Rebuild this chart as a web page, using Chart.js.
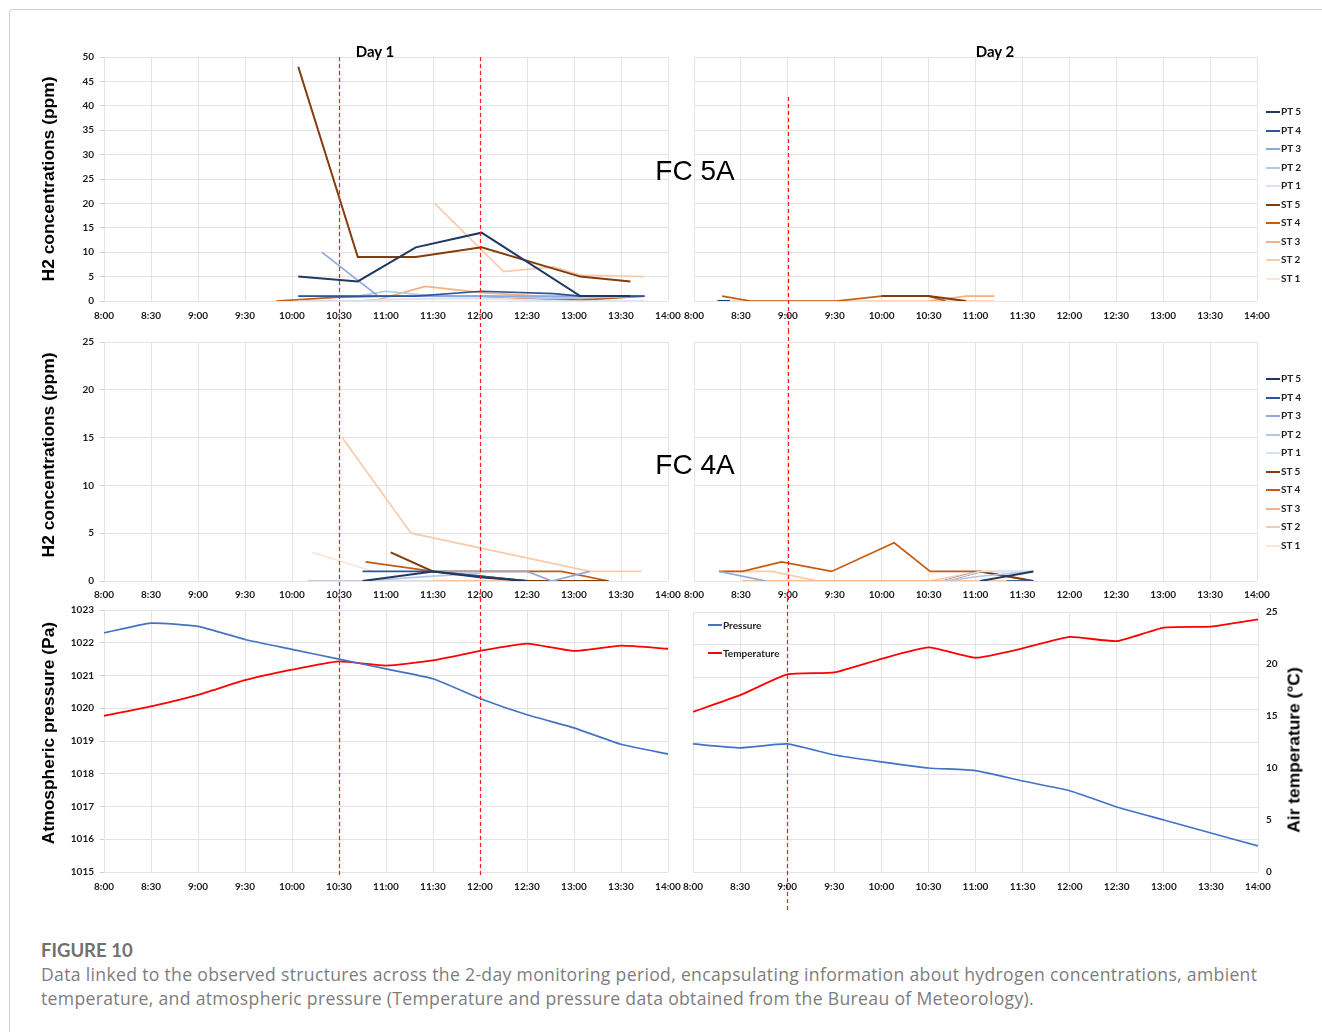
<!DOCTYPE html>
<html>
<head>
<meta charset="utf-8">
<script src="https://cdn.jsdelivr.net/npm/chart.js@4.4.1/dist/chart.umd.min.js"></script>
<style>
  body { margin:0; background:#fff; width:1322px; height:1032px; overflow:hidden; position:relative; font-family:Lato, "Open Sans", sans-serif; }
  .frame { position:absolute; left:9px; top:9px; width:1340px; height:1060px; border:1px solid #d2d2d2; border-radius:3px; }
  canvas { position:absolute; }
  .txt { position:absolute; white-space:nowrap; color:#000; }
  .vtitle { position:absolute; white-space:nowrap; transform:translate(-50%,-50%) rotate(-90deg); font-family:"Liberation Sans", Arial, sans-serif; font-weight:bold; font-size:17.4px; color:#000; }
  .day { font-family:Lato, sans-serif; font-weight:bold; font-size:15px; transform:translate(-50%,-50%); }
  .fc { font-family:"Liberation Sans", Arial, sans-serif; font-size:28px; transform:translate(-50%,-50%); }
  .legend { position:absolute; font-family:Lato, sans-serif; font-weight:bold; font-size:10px; color:#222; }
  .legend div { position:relative; height:18.5px; line-height:18.5px; padding-left:15px; }
  .legend span { position:absolute; left:0; top:9px; width:14px; height:2px; }
  .caption-head { position:absolute; left:41px; top:939px; font-family:Lato, sans-serif; font-weight:bold; font-size:18.5px; color:#707070; }
  .caption { position:absolute; left:41px; top:962px; font-family:"Open Sans", sans-serif; font-size:17.6px; letter-spacing:0.32px; line-height:24px; color:#7d7d7d; white-space:nowrap; }
</style>
</head>
<body>
<div class="frame"></div>

<canvas id="c5a1" width="650" height="300" style="left:40px;top:30px"></canvas>
<canvas id="c5a2" width="600" height="300" style="left:680px;top:30px"></canvas>
<canvas id="c4a1" width="650" height="272" style="left:40px;top:330px"></canvas>
<canvas id="c4a2" width="600" height="272" style="left:680px;top:330px"></canvas>
<canvas id="cw1" width="650" height="322" style="left:40px;top:598px"></canvas>
<canvas id="cw2" width="610" height="322" style="left:680px;top:598px"></canvas>

<div class="txt day" style="left:375px;top:51px">Day 1</div>
<div class="txt day" style="left:995px;top:51px">Day 2</div>
<div class="txt fc" style="left:695px;top:171px">FC 5A</div>
<div class="txt fc" style="left:695px;top:465px">FC 4A</div>
<div class="vtitle" style="left:48px;top:179px">H2 concentrations (ppm)</div>
<div class="vtitle" style="left:48px;top:455px">H2 concentrations (ppm)</div>
<div class="vtitle" style="left:48px;top:733px">Atmospheric pressure (Pa)</div>
<div class="vtitle" style="left:1294px;top:750px">Air temperature (°C)</div>

<div class="legend" id="leg1" style="left:1266px;top:102px"></div>
<div class="legend" id="leg2" style="left:1266px;top:369px"></div>
<div class="legend" id="legw" style="left:708px;top:616px"></div>

<div class="caption-head">FIGURE 10</div>
<div class="caption">Data linked to the observed structures across the 2-day monitoring period, encapsulating information about hydrogen concentrations, ambient<br>temperature, and atmospheric pressure (Temperature and pressure data obtained from the Bureau of Meteorology).</div>

<script>
// Sensor series (plot order = legend order)
const sensors = ["PT 5", "PT 4", "PT 3", "PT 2", "PT 1", "ST 5", "ST 4", "ST 3", "ST 2", "ST 1"];
const sensorColors = ["#203864", "#2f5597", "#8faadc", "#b4c7e7", "#dae3f3",
                      "#843c0c", "#c55a11", "#f4b183", "#f8cbad", "#fbe5d6"];

// FC 5A, day 1 — H2 readings (ppm); one row per sensor, null = no reading
const fc5aDay1Times = ["9:50", "10:04", "10:19", "10:30", "10:42", "10:55", "11:00", "11:19", "11:25", "11:31", "12:01", "12:15", "12:47", "13:04", "13:36", "13:45"];
const fc5aDay1Values = [
  [null, 5, null, null, 4, null, null, 11, null, null, 14, null, null, 1, 1, null],
  [null, 1, null, null, 1, null, null, 1, null, null, 2, null, 1.5, 1, null, 1],
  [null, null, 10, null, null, 1, null, null, null, 1, 1, null, null, 1, null, 1],
  [null, 1, null, null, 1, null, 2, null, null, 1, 1, null, 0.5, null, null, 1],
  [null, 0, null, null, 0, null, 0.3, null, null, 0.5, 0.5, null, 0, null, null, 0],
  [null, 48, null, null, 9, null, null, 9, null, null, 11, null, null, 5, 4, null],
  [0, null, null, 0.8, null, null, 1, null, null, 1, 1, null, null, 0.2, null, 1],
  [null, 0, null, null, 0, 0.3, null, null, 3, null, 1.7, null, null, 0.5, null, 1],
  [null, null, null, null, null, null, null, null, null, 20, null, 6, 7, 5.3, null, 5],
  [null, 0, null, null, 0, null, 0.3, null, null, 0.5, 0.8, null, 0.3, 0, null, 0]
];

// FC 5A, day 2
const fc5aDay2Times = ["8:15", "8:18", "8:23", "8:36", "9:31", "10:00", "10:30", "10:41", "10:54", "11:12"];
const fc5aDay2Values = [
  [0, null, 0, null, null, null, null, null, null, null],
  [null, null, null, null, null, null, null, null, null, null],
  [null, null, null, null, null, null, null, null, null, null],
  [null, null, null, null, null, null, null, null, null, null],
  [null, null, null, null, null, null, null, null, null, null],
  [null, null, null, null, null, 1, 1, null, 0, null],
  [null, 1, null, 0, 0, 1, 1, 0, null, null],
  [null, null, null, null, null, null, 0, null, 1, 1],
  [null, 0, null, 0, 0, 0, 0, null, 0, 0],
  [null, null, null, null, null, null, null, null, 1, 1]
];

// FC 4A, day 1
const fc4aDay1Times = ["10:10", "10:13", "10:32", "10:45", "10:47", "10:52", "11:03", "11:12", "11:16", "11:30", "12:00", "12:30", "12:46", "12:52", "13:10", "13:22", "13:43"];
const fc4aDay1Values = [
  [null, null, null, 0, null, null, null, null, null, 1, 0.4, 0, null, null, null, null, null],
  [null, null, null, 1, null, null, null, null, null, 1, 0.5, 0, null, null, null, null, null],
  [null, null, null, null, null, null, null, null, null, 1, 1, 1, 0, null, 1, null, null],
  [0, null, null, 0, null, null, null, null, null, 0.5, 0.8, null, null, null, null, null, null],
  [0, null, null, 0, null, null, null, null, null, 0, null, null, null, null, null, null, null],
  [null, null, null, null, null, null, 3, null, null, 1, 0.5, 0, null, null, null, 0, null],
  [null, null, null, null, 2, null, null, null, null, 1, 1, 1, null, 1, null, 0, null],
  [null, null, null, 0, null, null, null, 0, null, null, null, null, null, null, 0, 0, null],
  [null, null, 15, null, null, null, null, null, 5, null, null, null, null, null, 1, null, 1],
  [null, 3, null, null, null, 1, null, null, null, null, null, null, null, null, null, null, null]
];

// FC 4A, day 2
const fc4aDay2Times = ["8:16", "8:31", "8:46", "8:50", "8:56", "9:19", "9:28", "10:08", "10:31", "10:40", "11:03", "11:20", "11:37"];
const fc4aDay2Values = [
  [null, null, null, null, null, null, null, null, null, null, 0, null, 1],
  [null, null, null, null, null, null, null, null, null, null, null, 0, 0],
  [1, null, 0, null, null, null, null, null, null, null, null, null, null],
  [null, null, null, null, null, null, null, null, null, 0, 0.5, null, 1],
  [null, null, null, null, null, null, null, null, null, 0, 1, null, 1],
  [null, null, null, null, null, null, null, null, null, 0, 1, null, 0],
  [1, 1, null, null, 2, null, 1, 4, 1, null, 1, null, 0],
  [null, 0, null, null, null, null, 0, 0, 0, null, null, null, 0],
  [1, null, null, 1, null, 0, null, null, 0, null, 1, null, 1],
  [null, 0, null, null, null, 0, null, 0, null, null, null, null, null]
];

// Weather: half-hourly pressure and air temperature (°C)
const weatherTimes = ["8:00", "8:30", "9:00", "9:30", "10:00", "10:30", "11:00", "11:30", "12:00", "12:30", "13:00", "13:30", "14:00"];
const pressureDay1 = [1022.3, 1022.6, 1022.5, 1022.1, 1021.8, 1021.5, 1021.2, 1020.9, 1020.3, 1019.8, 1019.4, 1018.9, 1018.6];
const temperatureDay1 = [14.9, 15.8, 16.9, 18.3, 19.3, 20.1, 19.7, 20.2, 21.1, 21.8, 21.1, 21.6, 21.3];
const pressureDay2 = [1018.94, 1018.82, 1018.94, 1018.6, 1018.39, 1018.2, 1018.12, 1017.8, 1017.5, 1017.0, 1016.6, 1016.2, 1015.8];
const temperatureDay2 = [15.4, 17.0, 19.0, 19.2, 20.5, 21.6, 20.6, 21.5, 22.6, 22.2, 23.5, 23.6, 24.3];

// Times of the marked events
const day1Markers = ["10:30", "12:00"];
const day2Markers = ["9:00"];

const toMin = s => { const p = s.split(":"); return Number(p[0]) * 60 + Number(p[1]); };
const fmtTime = v => Math.floor(v / 60) + ":" + String(v % 60).padStart(2, "0");

const GRID = "#e4e4e4";
const TICK_FONT = { family: "Lato", weight: "bold", size: 10 };

// dashed red vertical markers
const markerPlugin = {
  id: "markers",
  afterDraw(chart, args, opts) {
    if (!opts.times || !opts.times.length) return;
    const ctx = chart.ctx, xs = chart.scales.x, a = chart.chartArea;
    const y0 = opts.fromTop ? a.top + (opts.topOffset || 0) : 0;
    const y1 = opts.toBottom ? a.bottom + (opts.bottomOffset || 0) : chart.height;
    ctx.save();
    ctx.strokeStyle = "#ff1a1a";
    ctx.lineWidth = 1.2;
    ctx.setLineDash([4, 3]);
    opts.times.forEach(t => {
      const x = Math.round(xs.getPixelForValue(toMin(t))) + 0.5;
      ctx.beginPath(); ctx.moveTo(x, y0); ctx.lineTo(x, y1); ctx.stroke();
    });
    ctx.restore();
  }
};
Chart.register(markerPlugin);

function xScale(h, pad) {
  return {
    type: "linear", min: 480, max: 840,
    ticks: { stepSize: 30, autoSkip: false, maxRotation: 0, padding: pad, color: "#1a1a1a", font: TICK_FONT, callback: v => fmtTime(v) },
    grid: { color: GRID, drawTicks: false },
    border: { display: false },
    // keep the plot area fixed; edge labels may spill into the canvas margin
    afterFit: s => { s.height = h; s.paddingLeft = 0; s.paddingRight = 0; }
  };
}

function sensorDatasets(times, values) {
  return sensors.map((name, i) => ({
    label: name,
    data: times.map((t, j) => ({ x: toMin(t), y: values[i][j] })).filter(p => p.y !== null),
    borderColor: sensorColors[i],
    borderWidth: (i === 0 || i === 5) ? 2 : 1.7,
    pointRadius: 0,
    tension: 0,
    fill: false
  }));
}

function sensorChart(id, times, values, opt) {
  const yTicks = opt.labels
    ? { stepSize: opt.step, padding: 6, color: "#1a1a1a", font: TICK_FONT }
    : { stepSize: opt.step, display: false };
  return new Chart(document.getElementById(id), {
    type: "line",
    data: { datasets: sensorDatasets(times, values) },
    options: {
      responsive: false, animation: false, devicePixelRatio: 1,
      layout: { padding: opt.padding },
      scales: {
        x: xScale(opt.xh, opt.xpad),
        y: {
          min: 0, max: opt.max,
          ticks: yTicks,
          grid: { color: GRID, drawTicks: opt.labels, tickLength: 4, tickColor: "#cfcfcf" },
          border: { display: false },
          afterFit: s => { s.width = opt.yw; }
        }
      },
      plugins: { legend: { display: false }, tooltip: { enabled: false }, markers: opt.markers }
    }
  });
}

// FC 5A
sensorChart("c5a1", fc5aDay1Times, fc5aDay1Values, {
  max: 50, step: 5, labels: true, yw: 64, xh: 29, xpad: 9,
  padding: { left: 0, right: 22, top: 27, bottom: 0 },
  markers: { times: day1Markers, fromTop: true }
});
sensorChart("c5a2", fc5aDay2Times, fc5aDay2Values, {
  max: 50, step: 5, labels: false, yw: 0, xh: 29, xpad: 9,
  padding: { left: 14, right: 23, top: 27, bottom: 0 },
  markers: { times: day2Markers, fromTop: true, topOffset: 40 }
});
// FC 4A
sensorChart("c4a1", fc4aDay1Times, fc4aDay1Values, {
  max: 25, step: 5, labels: true, yw: 64, xh: 21, xpad: 8,
  padding: { left: 0, right: 22, top: 12, bottom: 0 },
  markers: { times: day1Markers }
});
sensorChart("c4a2", fc4aDay2Times, fc4aDay2Values, {
  max: 25, step: 5, labels: false, yw: 0, xh: 21, xpad: 8,
  padding: { left: 14, right: 23, top: 12, bottom: 0 },
  markers: { times: day2Markers }
});

function weatherChart(id, pressure, temperature, opt) {
  const pts = arr => weatherTimes.map((t, j) => ({ x: toMin(t), y: arr[j] }));
  return new Chart(document.getElementById(id), {
    type: "line",
    data: {
      datasets: [
        { label: "Pressure", data: pts(pressure), yAxisID: "y", borderColor: "#4472c4", borderWidth: 1.7, pointRadius: 0, tension: 0.15 },
        { label: "Temperature", data: pts(temperature), yAxisID: "y2", borderColor: "#ff0000", borderWidth: 1.8, pointRadius: 0, tension: 0.15 }
      ]
    },
    options: {
      responsive: false, animation: false, devicePixelRatio: 1,
      layout: { padding: opt.padding },
      scales: {
        x: xScale(28, 9),
        y: {
          position: "left", min: 1015, max: 1023,
          ticks: opt.left
            ? { stepSize: 1, padding: 6, color: "#1a1a1a", font: TICK_FONT, callback: v => String(v) }
            : { stepSize: 1, display: false },
          grid: { color: GRID, drawTicks: opt.left, tickLength: 4, tickColor: "#cfcfcf" },
          border: { display: false },
          afterFit: s => { s.width = opt.left ? 64 : 0; }
        },
        y2: {
          position: "right", min: 0, max: 25, display: opt.right,
          ticks: { stepSize: 5, padding: 8, color: "#1a1a1a", font: TICK_FONT },
          grid: { drawOnChartArea: false, drawTicks: false },
          border: { display: false },
          afterFit: s => { s.width = opt.right ? 32 : 0; }
        }
      },
      plugins: { legend: { display: false }, tooltip: { enabled: false }, markers: opt.markers }
    }
  });
}

weatherChart("cw1", pressureDay1, temperatureDay1, {
  left: true, right: false,
  padding: { left: 0, right: 22, top: 10, bottom: 20 },
  markers: { times: day1Markers, toBottom: true, bottomOffset: 3 }
});
weatherChart("cw2", pressureDay2, temperatureDay2, {
  left: false, right: true,
  padding: { left: 13, right: 0, top: 10, bottom: 20 },
  markers: { times: day2Markers, toBottom: true, bottomOffset: 40 }
});

// legends
function fillLegend(id, names, colors) {
  const el = document.getElementById(id);
  names.forEach((n, i) => {
    const row = document.createElement("div");
    const sw = document.createElement("span");
    sw.style.background = colors[i];
    row.appendChild(sw);
    row.appendChild(document.createTextNode(n));
    el.appendChild(row);
  });
}
fillLegend("leg1", sensors, sensorColors);
fillLegend("leg2", sensors, sensorColors);
const weatherLegend = document.getElementById("legw");
fillLegend("legw", ["Pressure", "Temperature"], ["#4472c4", "#ff0000"]);
weatherLegend.querySelectorAll("div").forEach(d => { d.style.height = "28px"; d.style.lineHeight = "18px"; });
weatherLegend.querySelectorAll("span").forEach(s => { s.style.top = "8px"; s.style.height = "1.5px"; });
</script>
</body>
</html>
